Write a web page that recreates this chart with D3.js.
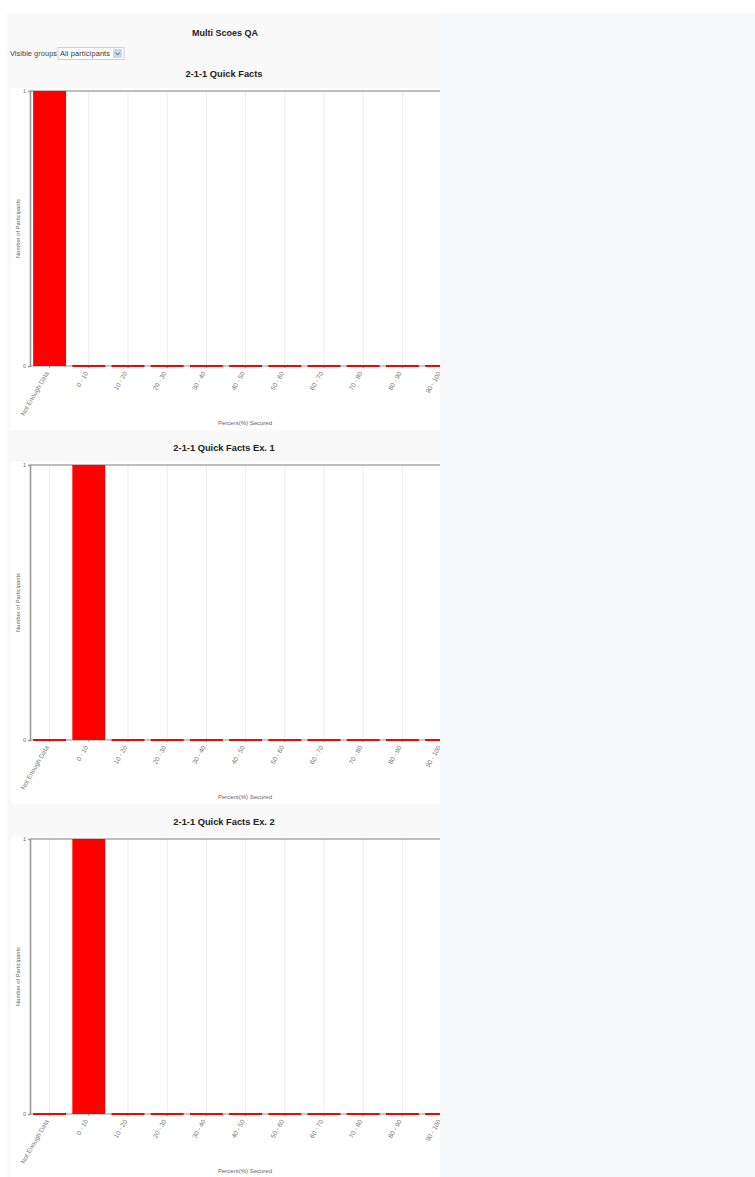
<!DOCTYPE html>
<html>
<head>
<meta charset="utf-8">
<script src="https://d3js.org/d3.v7.min.js"></script>
<style>
  body { margin: 0; padding: 0; background: #ffffff; }
  svg { display: block; font-family: "Liberation Sans", Arial, sans-serif; }
</style>
</head>
<body>
<div id="chart"></div>
<script>
// categories shared by every chart
var categories = ["Not Enough Data", "0 - 10", "10 - 20", "20 - 30", "30 - 40", "40 - 50",
                  "50 - 60", "60 - 70", "70 - 80", "80 - 90", "90 - 100"];

// number of participants per category, one array per quiz
var quickFacts    = [1, 0, 0, 0, 0, 0, 0, 0, 0, 0, 0];
var quickFactsEx1 = [0, 1, 0, 0, 0, 0, 0, 0, 0, 0, 0];
var quickFactsEx2 = [0, 1, 0, 0, 0, 0, 0, 0, 0, 0, 0];

var chartTitles = ["2-1-1 Quick Facts", "2-1-1 Quick Facts Ex. 1", "2-1-1 Quick Facts Ex. 2"];
var yTicks = [0, 1];

var width = 755, height = 1177;

var svg = d3.select("#chart").append("svg")
    .attr("width", width)
    .attr("height", height);

// page backgrounds
svg.append("rect").attr("x", 7).attr("y", 13).attr("width", 433).attr("height", height - 13).attr("fill", "#f9f9f9");
svg.append("rect").attr("x", 440).attr("y", 13).attr("width", width - 440).attr("height", height - 13).attr("fill", "#f7f8fa");

svg.append("text")
    .attr("x", 225).attr("y", 36)
    .attr("text-anchor", "middle")
    .attr("font-size", 9).attr("font-weight", "bold").attr("fill", "#222")
    .text("Multi Scoes QA");

// "Visible groups" dropdown
svg.append("text").attr("x", 10).attr("y", 56).attr("font-size", 7.4).attr("fill", "#444")
    .attr("textLength", 47).text("Visible groups");
svg.append("rect").attr("x", 58).attr("y", 47.5).attr("width", 66).attr("height", 12)
    .attr("fill", "#ffffff").attr("stroke", "#b7c6dd").attr("stroke-width", 0.8);
svg.append("text").attr("x", 60).attr("y", 56).attr("font-size", 7.4).attr("fill", "#333")
    .attr("textLength", 50).text("All participants");
svg.append("rect").attr("x", 113).attr("y", 49).attr("width", 9).attr("height", 9).attr("fill", "#c9d8f0");
svg.append("path").attr("d", "M115.5,52.5 L117.5,55 L119.5,52.5").attr("fill", "none").attr("stroke", "#3a5fa0").attr("stroke-width", 1);

var datasets = [quickFacts, quickFactsEx1, quickFactsEx2];
var chartStep = 374;

svg.append("defs").append("clipPath").attr("id", "clip")
    .append("rect").attr("x", 0).attr("y", 0).attr("width", 440).attr("height", height);

datasets.forEach(function(values, k) {
    var titleY = 74 + k * chartStep;
    var top = titleY + 17, bottom = top + 275;

    // white panel
    svg.append("rect").attr("x", 11).attr("y", titleY + 14).attr("width", 429).attr("height", 342).attr("fill", "#ffffff");

    svg.append("text")
        .attr("x", 224).attr("y", titleY + 3)
        .attr("text-anchor", "middle")
        .attr("font-size", 9.3).attr("font-weight", "bold").attr("fill", "#222")
        .text(chartTitles[k]);

    var g = svg.append("g").attr("clip-path", "url(#clip)");

    var x = d3.scaleBand()
        .domain(categories)
        .range([30, 30 + 11 * 39.2])
        .paddingInner(0.16)
        .paddingOuter(0.08);

    var y = d3.scaleLinear().domain([0, 1]).range([bottom, top]);

    // vertical gridlines
    g.selectAll(".grid")
        .data(categories)
        .enter().append("line")
        .attr("x1", function(d) { return x(d) + x.bandwidth() / 2; })
        .attr("x2", function(d) { return x(d) + x.bandwidth() / 2; })
        .attr("y1", top).attr("y2", bottom)
        .attr("stroke", "#ececec").attr("stroke-width", 1);

    // top border and baseline
    g.append("line").attr("x1", 30).attr("x2", 470).attr("y1", top).attr("y2", top)
        .attr("stroke", "#a8a8a8").attr("stroke-width", 1.6);
    g.append("line").attr("x1", 30).attr("x2", 470).attr("y1", bottom).attr("y2", bottom)
        .attr("stroke", "#b8b8b8").attr("stroke-width", 1.6);

    // x ticks
    g.selectAll(".xtick")
        .data(categories)
        .enter().append("line")
        .attr("x1", function(d) { return x(d) + x.bandwidth() / 2; })
        .attr("x2", function(d) { return x(d) + x.bandwidth() / 2; })
        .attr("y1", bottom).attr("y2", bottom + 2)
        .attr("stroke", "#999");

    // bars (zero values shown as a thin red strip on the baseline)
    g.selectAll(".bar")
        .data(values)
        .enter().append("rect")
        .attr("x", function(d, i) { return x(categories[i]); })
        .attr("width", x.bandwidth())
        .attr("y", function(d) { return d > 0 ? y(d) : bottom - 1; })
        .attr("height", function(d) { return d > 0 ? bottom - y(d) : 2; })
        .attr("fill", "#ff0000");

    // y axis
    var yAxis = d3.axisLeft(y).tickValues(yTicks).tickFormat(d3.format("d")).tickSize(2).tickPadding(2);
    var ya = svg.append("g").attr("transform", "translate(30,0)").call(yAxis);
    ya.select(".domain").attr("stroke", "#999").attr("stroke-width", 1.6);
    ya.selectAll(".tick line").attr("stroke", "#999");
    ya.selectAll(".tick text").attr("font-size", 5.5).attr("fill", "#666");

    // x tick labels
    g.selectAll(".xlabel")
        .data(categories)
        .enter().append("text")
        .attr("transform", function(d) {
            return "translate(" + (x(d) + x.bandwidth() / 2 - 2.5) + "," + (bottom + 6) + ") rotate(-60)";
        })
        .attr("text-anchor", "end")
        .attr("dy", "0.35em")
        .attr("font-size", 6.5).attr("fill", "#777")
        .text(function(d) { return d; });

    svg.append("text")
        .attr("transform", "translate(20," + ((top + bottom) / 2) + ") rotate(-90)")
        .attr("text-anchor", "middle")
        .attr("font-size", 5.8).attr("fill", "#666")
        .text("Number of Participants");

    svg.append("text")
        .attr("x", 245).attr("y", bottom + 59)
        .attr("text-anchor", "middle")
        .attr("font-size", 6).attr("fill", "#666")
        .text("Percent(%) Secured");
});
</script>
</body>
</html>
